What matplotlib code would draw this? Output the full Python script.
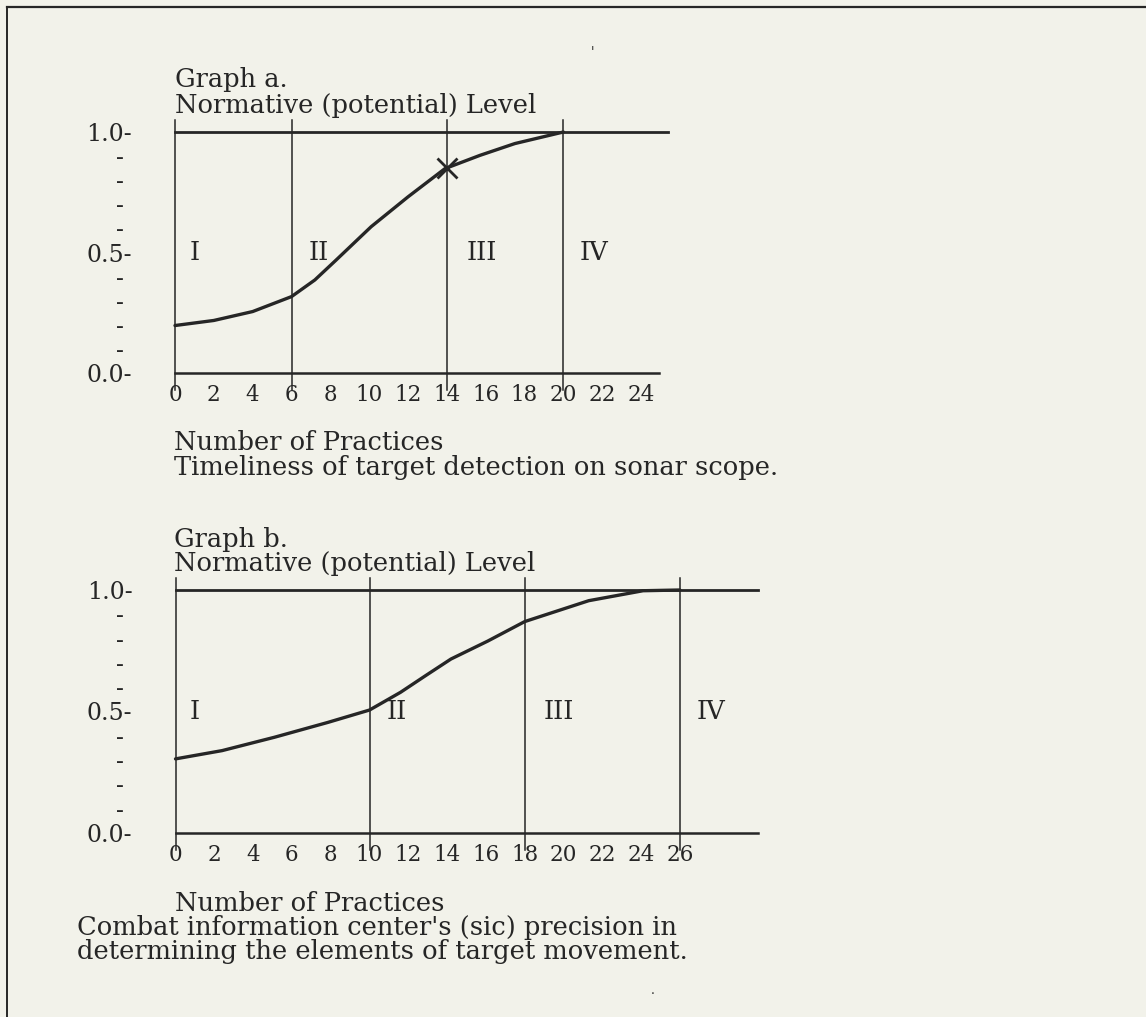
import matplotlib
matplotlib.use("Agg")
import matplotlib.pyplot as plt
from matplotlib.lines import Line2D

plt.rcParams['font.family'] = ['DejaVu Serif']

## Data
# Graph a : timeliness of target detection
a_x = [0, 2, 4, 6, 7.2, 8.3, 10.1, 12, 13.9, 15.7, 17.5, 20]
a_y = [0.197, 0.218, 0.255, 0.317, 0.386, 0.469, 0.607, 0.731, 0.848, 0.903, 0.952, 1.0]
a_cross = (14, 0.85)
a_bounds = [0, 6, 14, 20]
a_region_x = [1.0, 7.4, 15.8, 21.6]
a_ticks = list(range(0, 25, 2))

# Graph b : CIC precision
b_x = [0, 2.4, 5.1, 7.85, 10, 11.6, 12.9, 14.2, 16.1, 18, 21.3, 24.1, 26]
b_y = [0.305, 0.339, 0.394, 0.455, 0.506, 0.579, 0.648, 0.716, 0.79, 0.87, 0.956, 0.997, 1.0]
b_bounds = [0, 10, 18, 26]
b_region_x = [1.0, 11.4, 19.75, 27.6]
b_ticks = list(range(0, 27, 2))

roman = ["I", "II", "III", "IV"]
y_major = [0.0, 0.5, 1.0]
y_major_lbl = ["0.0-", "0.5-", "1.0-"]
y_minor = [0.1, 0.2, 0.3, 0.4, 0.6, 0.7, 0.8, 0.9]

W, H = 1146, 1017
ink = '#262626'
bg = '#f2f2ea'
FS = 18.5


def fx(px):
    return px / W


def fy(py):
    return 1 - py / H


fig = plt.figure(figsize=(W / 100, H / 100), dpi=100, facecolor=bg)

# page frame (top + left edge of the scan)
fig.add_artist(Line2D([fx(7), 1], [fy(7), fy(7)], color=ink, lw=1.6, transform=fig.transFigure))
fig.add_artist(Line2D([fx(7), fx(7)], [fy(7), 0], color=ink, lw=1.4, transform=fig.transFigure))


def make_graph(left, x_unit, y0, y_unit, xmax, xs, ys, bounds, reg_x, ticks,
               top_end, axis_end):
    ax = fig.add_axes([fx(left), fy(y0), fx(xmax * x_unit), y_unit / H])
    ax.set_xlim(0, xmax)
    ax.set_ylim(0, 1)
    ax.patch.set_alpha(0)
    for s in ax.spines.values():
        s.set_visible(False)

    ax.plot([0, top_end], [1, 1], color=ink, lw=2.0, clip_on=False)
    ax.plot([0, axis_end], [0, 0], color=ink, lw=1.8, clip_on=False)
    for b in bounds:
        ax.plot([b, b], [-0.07, 1.05], color=ink, lw=1.1, clip_on=False)
    ax.plot(xs, ys, color=ink, lw=2.4, clip_on=False, solid_capstyle='round')
    for rx, r in zip(reg_x, roman):
        ax.text(rx, 0.5, r, ha='center', va='center', fontsize=FS, color=ink)

    ax.set_xticks(ticks)
    ax.set_xticklabels([str(t) for t in ticks], fontsize=15.5, color=ink)
    ax.set_yticks(y_major)
    ax.set_yticklabels(y_major_lbl, fontsize=17, color=ink)
    ax.set_yticks(y_minor, minor=True)
    ax.set_yticklabels(["-"] * len(y_minor), minor=True, fontsize=17, color=ink)
    ax.tick_params(axis='x', length=0, pad=8)
    ax.tick_params(axis='y', which='major', length=0, pad=31)
    ax.tick_params(axis='y', which='minor', length=0, pad=37)
    return ax


ax_a = make_graph(175, 19.42, 373, 241, 26, a_x, a_y, a_bounds, a_region_x, a_ticks, 25.4, 24.9)
ax_a.plot([a_cross[0]], [a_cross[1]], marker='x', ms=15, mew=2, color=ink, clip_on=False)

ax_b = make_graph(175.5, 19.4, 833, 243, 30, b_x, b_y, b_bounds, b_region_x, b_ticks, 30, 30)

# text blocks
txt = dict(fontsize=FS, color=ink, va='baseline', ha='left')
fig.text(fx(175), fy(87), "Graph a.", **txt)
fig.text(fx(175), fy(113), "Normative (potential) Level", **txt)
fig.text(fx(174), fy(450), "Number of Practices", **txt)
fig.text(fx(174), fy(475), "Timeliness of target detection on sonar scope.", **txt)

fig.text(fx(174), fy(547), "Graph b.", **txt)
fig.text(fx(174), fy(571), "Normative (potential) Level", **txt)
fig.text(fx(175), fy(911), "Number of Practices", **txt)
fig.text(fx(77), fy(935), "Combat information center's (sic) precision in", **txt)
fig.text(fx(77), fy(959), "determining the elements of target movement.", **txt)

# specks on the scan
fig.text(fx(592), fy(53), "'", fontsize=9, color=ink, ha='center', va='center')
fig.text(fx(653), fy(991), ".", fontsize=9, color=ink, ha='center', va='center')

fig.savefig("out.png", dpi=100, facecolor=bg)
